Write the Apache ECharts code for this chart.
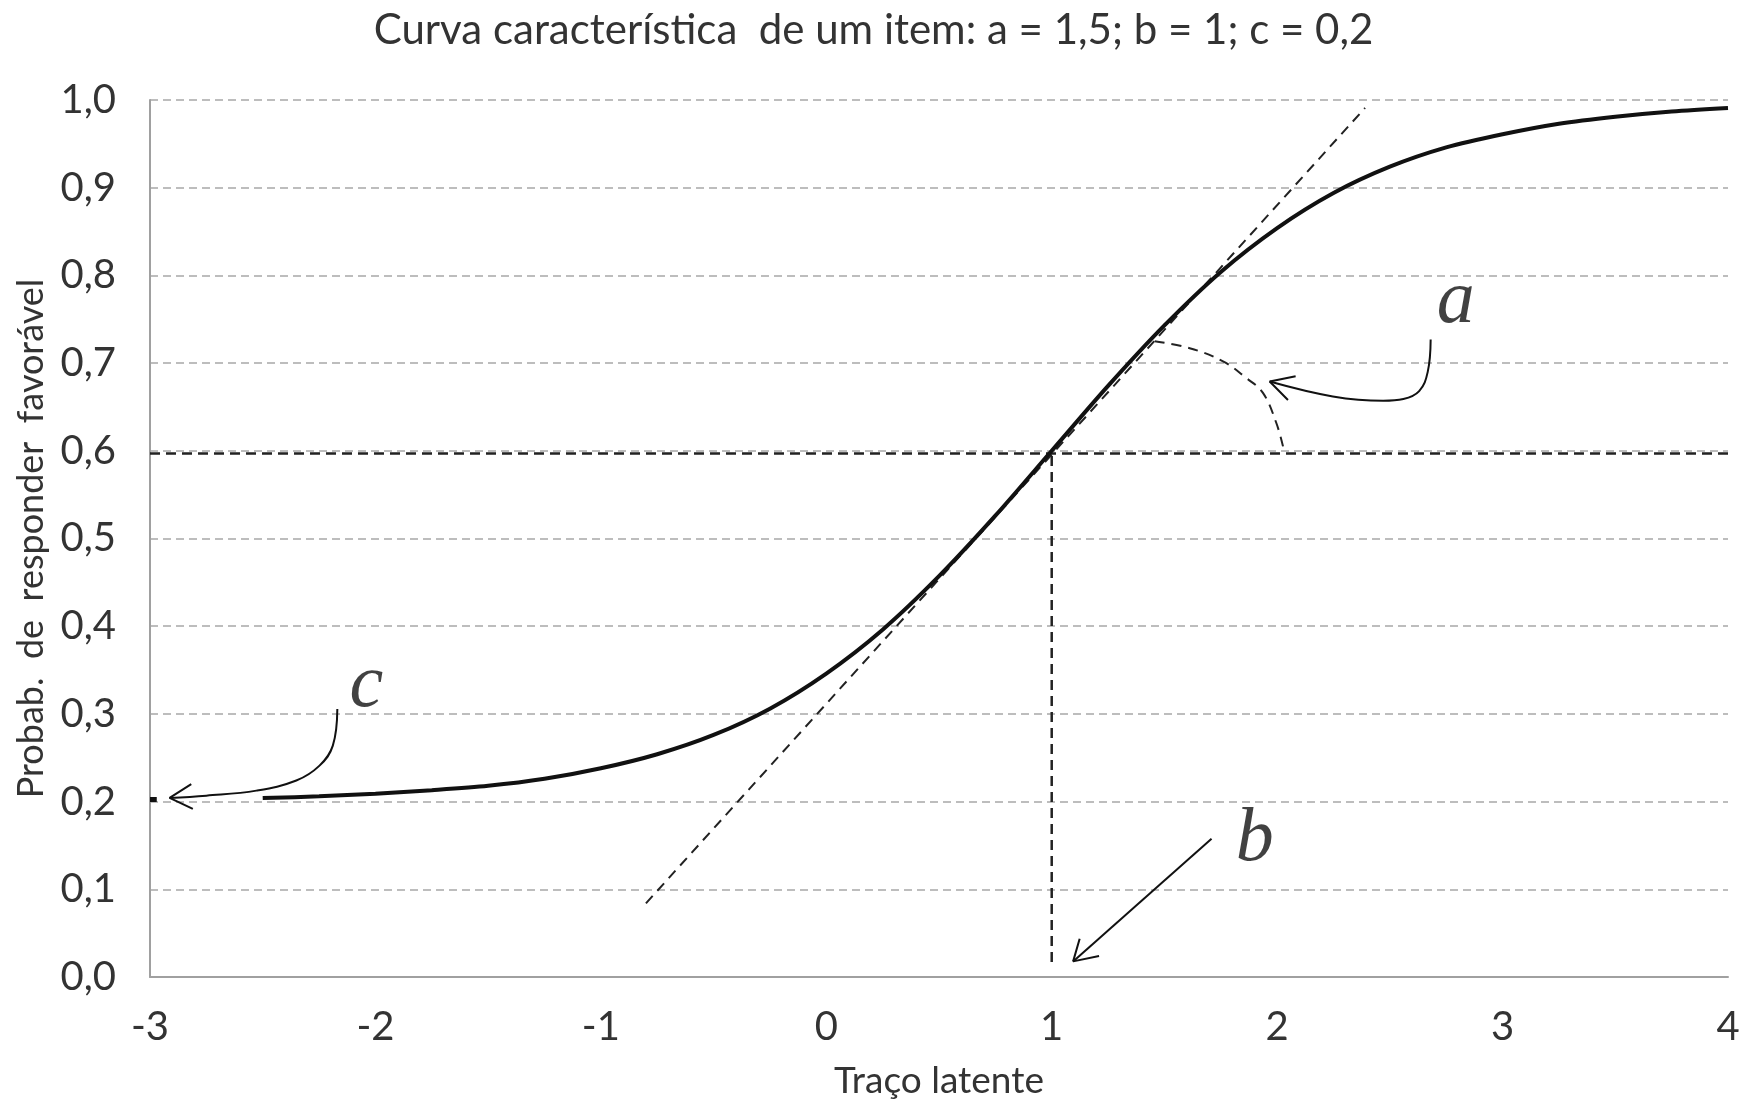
<!DOCTYPE html>
<html>
<head>
<meta charset="utf-8">
<title>Curva característica</title>
<script src="https://cdn.jsdelivr.net/npm/echarts@6/dist/echarts.min.js"></script>
<style>
html, body { margin: 0; padding: 0; background: #fff; }
#chart { width: 1747px; height: 1105px; }
</style>
</head>
<body>
<div id="chart"></div>
<script>
// valores
var theta = [-2.5, -2.25, -2, -1.75, -1.5, -1.25, -1, -0.75, -0.5, -0.25, 0, 0.25, 0.5, 0.75, 1, 1.25, 1.5, 1.75, 2, 2.25, 2.5, 2.75, 3, 3.25, 3.5, 3.75, 4];
var prob = [0.204, 0.206, 0.209, 0.213, 0.218, 0.226, 0.238, 0.254, 0.276, 0.306, 0.346, 0.396, 0.457, 0.526, 0.6, 0.674, 0.743, 0.804, 0.854, 0.894, 0.924, 0.946, 0.961, 0.973, 0.981, 0.987, 0.991];

var xTickLabels = ['-3', '-2', '-1', '0', '1', '2', '3', '4'];
var yTickLabels = ['0,0', '0,1', '0,2', '0,3', '0,4', '0,5', '0,6', '0,7', '0,8', '0,9', '1,0'];

// retas de referencia
var tangentX = [-0.8, 2.39];
var tangentY = [0.084, 0.991];
var hLineX = [-3, 4];
var hLineY = [0.597, 0.597];
var vLineX = [1, 1];
var vLineY = [0.017, 0.6];

// arco do angulo (a)
var arcX = [1.457, 1.612, 1.760, 1.863, 1.937, 1.996, 2.026];
var arcY = [0.725, 0.717, 0.702, 0.683, 0.666, 0.632, 0.605];

// setas
var aArrowX = [2.681, 2.668, 2.630, 2.560, 2.470, 2.247, 1.967];
var aArrowY = [0.727, 0.690, 0.668, 0.659, 0.657, 0.662, 0.679];
var aHeadX = [2.082, 1.967, 2.048];
var aHeadY = [0.685, 0.679, 0.658];

var cArrowX = [-2.169, -2.189, -2.248, -2.351, -2.528, -2.750, -2.913];
var cArrowY = [0.3056, 0.2638, 0.241, 0.224, 0.2125, 0.2068, 0.2042];
var cHeadX = [-2.817, -2.913, -2.810];
var cHeadY = [0.220, 0.2042, 0.1917];
var cMarkX = [-3, -2.97];
var cMarkY = [0.2023, 0.2023];

var bArrowX = [1.709, 1.095];
var bArrowY = [0.1575, 0.0178];
var bHeadX = [1.124, 1.095, 1.210];
var bHeadY = [0.0436, 0.0178, 0.0239];

var letterNames = ['a', 'b', 'c'];
var letterX = [2.792, 1.901, -2.040];
var letterY = [0.770, 0.156, 0.332];

function pairs(xs, ys) {
    return xs.map(function (x, i) { return [x, ys[i]]; });
}

var chart = echarts.init(document.getElementById('chart'));

function lineSeries(xs, ys, opts) {
    var s = {
        type: 'line',
        data: pairs(xs, ys),
        showSymbol: false,
        symbol: 'none',
        silent: true,
        lineStyle: { color: '#111', width: 2, type: 'solid' },
        z: 3
    };
    for (var k in opts) {
        if (k === 'lineStyle') {
            for (var j in opts.lineStyle) s.lineStyle[j] = opts.lineStyle[j];
        } else {
            s[k] = opts[k];
        }
    }
    return s;
}

var option = {
    animation: false,
    backgroundColor: '#fff',
    title: {
        text: 'Curva característica  de um item: a = 1,5; b = 1; c = 0,2',
        left: 'center',
        top: 4,
        textStyle: {
            fontFamily: 'Lato',
            fontWeight: 'normal',
            fontSize: 42,
            color: '#333'
        }
    },
    grid: {
        left: 150,
        right: 19,
        top: 100,
        bottom: 127,
        containLabel: false
    },
    xAxis: {
        type: 'value',
        min: -3,
        max: 4,
        interval: 1,
        name: 'Traço latente',
        nameLocation: 'middle',
        nameGap: 86,
        nameTextStyle: { fontFamily: 'Lato', fontSize: 37, color: '#333' },
        axisLine: { show: true, onZero: false, lineStyle: { color: '#a0a0a0', width: 2 } },
        axisTick: { show: false },
        splitLine: { show: false },
        axisLabel: {
            margin: 30,
            fontFamily: 'Lato',
            fontSize: 40,
            color: '#333',
            formatter: function (v) { return xTickLabels[Math.round(v + 3)]; }
        }
    },
    yAxis: {
        type: 'value',
        min: 0,
        max: 1,
        interval: 0.1,
        name: 'Probab.  de  responder  favorável',
        nameLocation: 'middle',
        nameGap: 99,
        nameTextStyle: { fontFamily: 'Lato', fontSize: 36, color: '#333' },
        axisLine: { show: true, onZero: false, lineStyle: { color: '#a0a0a0', width: 2 } },
        axisTick: { show: false },
        splitLine: {
            show: true,
            lineStyle: { color: '#a8a8a8', width: 1.5, type: [8, 5] }
        },
        axisLabel: {
            margin: 34,
            fontFamily: 'Lato',
            fontSize: 40,
            color: '#333',
            formatter: function (v) { return yTickLabels[Math.round(v * 10)]; }
        }
    },
    series: [
        lineSeries(hLineX, hLineY, { lineStyle: { color: '#222', width: 2.5, type: [10, 6] } }),
        lineSeries(vLineX, vLineY, { lineStyle: { color: '#222', width: 2.5, type: [10, 6] } }),
        lineSeries(tangentX, tangentY, { lineStyle: { color: '#222', width: 2, type: [10, 7] } }),
        lineSeries(arcX, arcY, { smooth: 0.4, lineStyle: { color: '#222', width: 2, type: [10, 7] } }),
        lineSeries(theta, prob, { smooth: 0.3, z: 5, lineStyle: { color: '#111', width: 4 } }),
        lineSeries(aArrowX, aArrowY, { smooth: 0.4 }),
        lineSeries(aHeadX, aHeadY, {}),
        lineSeries(cArrowX, cArrowY, { smooth: 0.4 }),
        lineSeries(cHeadX, cHeadY, {}),
        lineSeries(cMarkX, cMarkY, { lineStyle: { width: 5 } }),
        lineSeries(bArrowX, bArrowY, {}),
        lineSeries(bHeadX, bHeadY, {}),
        {
            type: 'scatter',
            symbolSize: 0,
            silent: true,
            data: letterNames.map(function (n, i) { return { name: n, value: [letterX[i], letterY[i]] }; }),
            label: {
                show: true,
                position: 'inside',
                formatter: function (p) { return p.name; },
                fontFamily: 'Liberation Serif',
                fontStyle: 'italic',
                fontSize: 76,
                color: '#111'
            },
            z: 6
        }
    ]
};

chart.setOption(option);
window.addEventListener('resize', function () {
    chart.resize();
});
</script>
</body>
</html>
